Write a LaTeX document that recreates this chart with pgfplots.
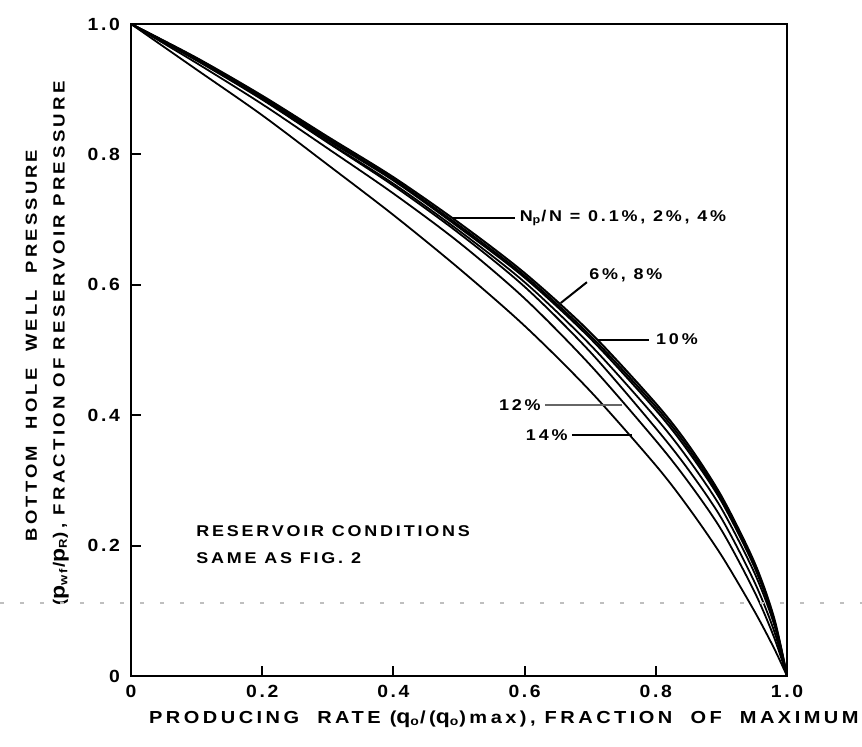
\documentclass[border=0pt]{standalone}
\usepackage{fontspec}
\setmainfont{Liberation Sans}
\newfontfamily\lab{Liberation Sans}[FakeStretch=1.15, LetterSpace=18]
\newfontfamily\labw{Liberation Sans}[FakeStretch=1.15, LetterSpace=20]
\newfontfamily\tkl{Liberation Sans}[FakeStretch=1.1, LetterSpace=15]
\usepackage{pgfplots}
\pgfplotsset{compat=1.18}
\begin{document}
\begin{tikzpicture}
\begin{axis}[
  name=ax, scale only axis, width=328pt, height=326pt,
  xmin=0, xmax=1, ymin=0, ymax=1, clip=false,
  axis line style={line width=1.3pt},
  xtick={0,0.2,0.4,0.6,0.8,1}, ytick={0,0.2,0.4,0.6,0.8,1},
  xticklabels={0,0.2,0.4,0.6,0.8,1.0}, yticklabels={0,0.2,0.4,0.6,0.8,1.0},
  xtick pos=bottom, ytick pos=left, tick align=inside,
  major tick length=5pt, tick style={line width=1pt, black},
  /pgf/number format/assume math mode=true,
  xticklabel style={font=\tkl\bfseries\fontsize{8.8}{10}\selectfont, yshift=-1pt},
  yticklabel style={font=\tkl\bfseries\fontsize{8.8}{10}\selectfont, xshift=-2pt},
]
% 0.1 %, 2 %, 4 %
\addplot[black, line width=1pt, smooth] coordinates {(0,1) (0.1,0.948) (0.2,0.890) (0.3,0.827) (0.4,0.765) (0.5,0.695) (0.6,0.618) (0.7,0.527) (0.8,0.418) (0.85,0.354) (0.9,0.276) (0.95,0.175) (0.98,0.090) (1,0)};
\addplot[black, line width=1pt, smooth] coordinates {(0,1) (0.1,0.947) (0.2,0.888) (0.3,0.824) (0.4,0.762) (0.5,0.691) (0.6,0.614) (0.7,0.522) (0.8,0.413) (0.85,0.349) (0.9,0.272) (0.95,0.171) (0.98,0.087) (1,0)};
\addplot[black, line width=1pt, smooth] coordinates {(0,1) (0.1,0.946) (0.2,0.887) (0.3,0.822) (0.4,0.760) (0.5,0.688) (0.6,0.611) (0.7,0.518) (0.8,0.408) (0.85,0.344) (0.9,0.268) (0.95,0.168) (0.98,0.085) (1,0)};
% 6 %, 8 %
\addplot[black, line width=0.9pt, smooth] coordinates {(0,1) (0.1,0.945) (0.2,0.885) (0.3,0.819) (0.4,0.755) (0.5,0.683) (0.6,0.604) (0.7,0.508) (0.8,0.396) (0.85,0.332) (0.9,0.257) (0.95,0.159) (0.98,0.080) (1,0)};
% 10 %
\addplot[black, line width=0.9pt, smooth] coordinates {(0,1) (0.1,0.944) (0.2,0.884) (0.3,0.818) (0.4,0.752) (0.5,0.679) (0.6,0.597) (0.7,0.497) (0.8,0.380) (0.85,0.316) (0.9,0.242) (0.95,0.145) (0.98,0.070) (1,0)};
% 12 %
\addplot[black, line width=0.9pt, smooth] coordinates {(0,1) (0.1,0.940) (0.2,0.877) (0.3,0.809) (0.4,0.740) (0.5,0.665) (0.6,0.579) (0.7,0.477) (0.8,0.361) (0.85,0.297) (0.9,0.224) (0.95,0.130) (0.98,0.060) (1,0)};
% 14 %
\addplot[black, line width=0.9pt, smooth] coordinates {(0,1) (0.1,0.930) (0.2,0.860) (0.3,0.784) (0.4,0.707) (0.5,0.625) (0.6,0.537) (0.7,0.437) (0.8,0.323) (0.85,0.258) (0.9,0.185) (0.95,0.100) (0.98,0.043) (1,0)};
% leaders and labels
\draw[line width=1pt] (axis cs:0.49,0.703) -- (axis cs:0.585,0.703);
\node[anchor=west, inner sep=0pt, font=\lab\bfseries\fontsize{7.8}{9}\selectfont] at (axis cs:0.592,0.703) {N\textsubscript{p}/N = 0.1\%, 2\%, 4\%};
\draw[line width=1pt] (axis cs:0.655,0.572) -- (axis cs:0.695,0.604);
\node[anchor=west, inner sep=0pt, font=\lab\bfseries\fontsize{7.8}{9}\selectfont] at (axis cs:0.698,0.614) {6\%, 8\%};
\draw[line width=1pt] (axis cs:0.712,0.516) -- (axis cs:0.79,0.516);
\node[anchor=west, inner sep=0pt, font=\lab\bfseries\fontsize{7.8}{9}\selectfont] at (axis cs:0.80,0.516) {10\%};
\draw[line width=1pt, black!60] (axis cs:0.631,0.416) -- (axis cs:0.749,0.416);
\node[anchor=east, inner sep=0pt, font=\lab\bfseries\fontsize{7.8}{9}\selectfont] at (axis cs:0.625,0.416) {12\%};
\draw[line width=1pt] (axis cs:0.672,0.369) -- (axis cs:0.763,0.369);
\node[anchor=east, inner sep=0pt, font=\lab\bfseries\fontsize{7.8}{9}\selectfont] at (axis cs:0.666,0.369) {14\%};
\node[anchor=west, inner sep=0pt, align=left, font=\lab\bfseries\fontsize{7.8}{13.5}\selectfont] at (axis cs:0.099,0.202) {RESERVOIR CONDITIONS\\SAME AS FIG. 2};
% axis titles
\node[rotate=90, inner sep=0pt, font=\labw\bfseries\fontsize{8}{10}\selectfont] at (rel axis cs:-0.152,0.507) {BOTTOM~~HOLE~~WELL~~PRESSURE};
\node[rotate=90, inner sep=0pt, font=\labw\bfseries\fontsize{8.1}{10}\selectfont] at (rel axis cs:-0.107,0.51) {({\fontsize{10}{10}\selectfont p}\textsubscript{wf}/{\fontsize{10}{10}\selectfont p}\textsubscript{R}), FRACTION OF RESERVOIR PRESSURE};
\node[anchor=west, inner sep=0pt, font=\labw\bfseries\fontsize{8.7}{10}\selectfont] at (rel axis cs:0.027,-0.067) {PRODUCING~~RATE ({\fontsize{10}{10}\selectfont q}\textsubscript{o}/({\fontsize{10}{10}\selectfont q}\textsubscript{o})max), FRACTION~~OF~~MAXIMUM};
% scan artefact line
\draw[gray!50, line width=1pt, dash pattern=on 2pt off 8pt] (rel axis cs:-0.2,0.112) -- (rel axis cs:1.12,0.112);
\coordinate (bl) at (rel axis cs:-0.1997,-0.1089);
\coordinate (tr) at (rel axis cs:1.1143,1.0368);
\end{axis}
\pgfresetboundingbox
\useasboundingbox (bl) rectangle (tr);
\end{tikzpicture}
\end{document}
